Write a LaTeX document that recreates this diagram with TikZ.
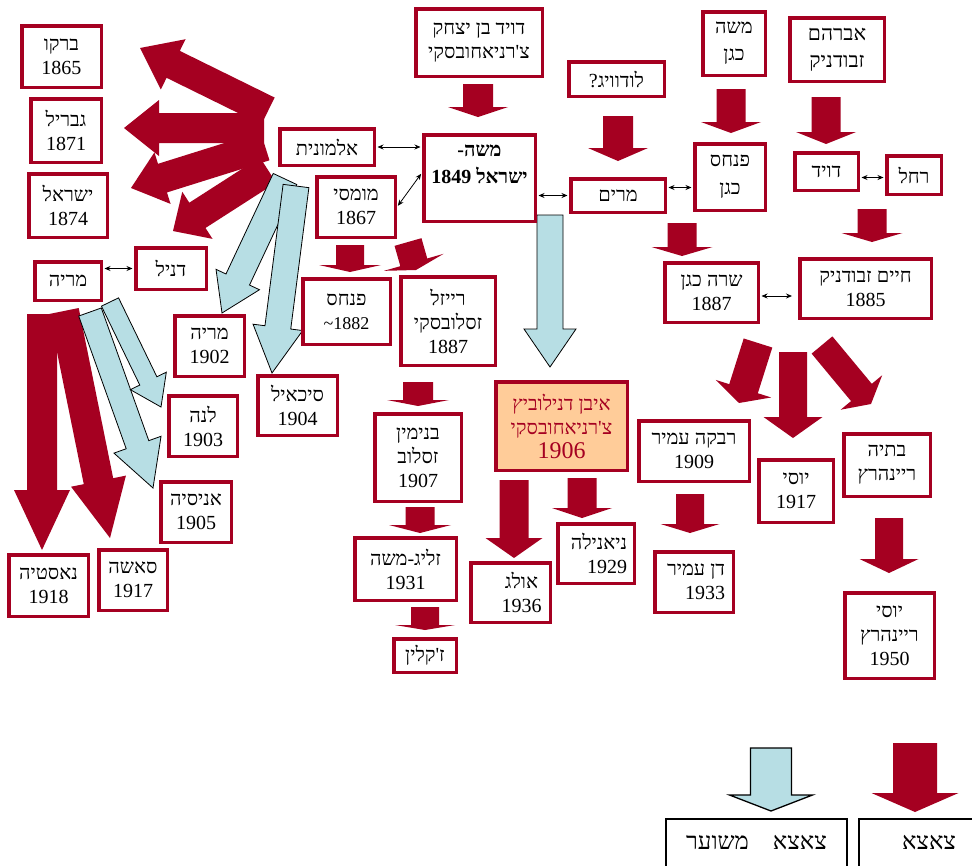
\documentclass[tikz,border=0pt]{standalone}
\usepackage{fontspec}
\usetikzlibrary{calc,arrows.meta}
\TeXXeTstate=1
\newfontfamily\heb[Script=Hebrew]{Liberation Serif}
\newfontfamily\lat{Liberation Serif}
\definecolor{dred}{RGB}{165,0,33}
\definecolor{lblue}{RGB}{183,222,228}
\definecolor{orng}{RGB}{255,204,153}
\newcommand\heR[1]{\beginR #1\endR}
% #1 style, #2 start, #3 tip, #4 half shaft, #5 half head, #6 head length
\newcommand\fatarrow[6][]{%
  \coordinate (faS) at (#2);
  \coordinate (faT) at (#3);
  \coordinate (faH) at ($(faT)!#6!(faS)$);
  \path[#1] ($(faS)!#4!90:(faT)$) -- ($(faH)!#4!-90:(faS)$) -- ($(faH)!#5!-90:(faS)$)
     -- (faT) -- ($(faH)!#5!90:(faS)$) -- ($(faH)!#4!90:(faS)$) -- ($(faS)!#4!-90:(faT)$) -- cycle;
}
\tikzset{
 famnode/.style={draw=dred, line width=3.5pt, fill=white, align=center, inner sep=0pt, text=black, font=\heb\fontsize{20}{24}\selectfont},
 redfill/.style={fill=dred},
 bluefill/.style={fill=lblue, draw=black, line width=0.8pt, line join=miter},
 dbl/.style={{Stealth[length=6pt,width=5pt]}-{Stealth[length=6pt,width=5pt]}, line width=0.8pt, shorten <=1.5pt, shorten >=1.5pt},
 legnode/.style={draw=black, line width=1.3pt, fill=white, align=center, inner sep=0pt, font=\heb\fontsize{24}{28}\selectfont},
}
\begin{document}
\begin{tikzpicture}[x=1pt,y=-1pt]
\useasboundingbox[fill=white] (0,0) rectangle (972,865);

% ---- fan of red arrows (upper left)
\fatarrow[redfill]{268,111}{140,48}{15pt}{28pt}{37pt}
\fatarrow[redfill]{264,128}{124,128}{15pt}{28pt}{35pt}
\fatarrow[redfill]{265,146}{131,188}{15pt}{27pt}{33pt}
\fatarrow[redfill]{268,170}{173,231}{15pt}{28pt}{29pt}
% ---- blue arrows upper left
\fatarrow[bluefill]{285,179}{222,313}{13pt}{24pt}{37pt}
\fatarrow[bluefill]{296,186}{272,373}{13pt}{25pt}{46pt}
% ---- left group
\fatarrow[redfill]{42,314}{42,550}{15pt}{28pt}{60pt}
\fatarrow[redfill]{64,311}{110,538}{15pt}{28pt}{58pt}
\fatarrow[bluefill]{90,312}{153,488}{12pt}{25pt}{46pt}
\fatarrow[bluefill]{110,302}{161,407}{9.5pt}{20pt}{29pt}
% ---- flat-head red arrows
\fatarrow[redfill]{478,84}{478,117}{15pt}{30pt}{10pt}
\fatarrow[redfill]{618,116}{618,161}{15pt}{30pt}{13pt}
\fatarrow[redfill]{731,89}{731,133}{14.5pt}{30pt}{11pt}
\fatarrow[redfill]{826,97}{826,144}{14.5pt}{30pt}{12pt}
\fatarrow[redfill]{682,223}{682,256}{14.5pt}{30.5pt}{9pt}
\fatarrow[redfill]{872,209}{872,242}{14.5pt}{30.5pt}{9pt}
\fatarrow[redfill]{350,245}{350,272}{14pt}{31pt}{7pt}
\fatarrow[redfill]{408,242}{416,270}{14pt}{31pt}{8pt}
\fatarrow[redfill]{418,382}{418,406}{15pt}{31pt}{6pt}
\fatarrow[redfill]{420,507}{420,533}{14.5pt}{31pt}{8pt}
\fatarrow[redfill]{425,607}{425,630}{14pt}{30pt}{5pt}
\fatarrow[redfill]{514,480}{514,558}{14.5pt}{28.5pt}{20pt}
\fatarrow[redfill]{582,478}{582,518}{14.5pt}{30pt}{10pt}
\fatarrow[redfill]{758,343}{739,403}{15pt}{29pt}{15pt}
\fatarrow[redfill]{793,352}{793,438}{14pt}{29.5pt}{21pt}
\fatarrow[redfill]{822,345}{871,404}{13.5pt}{27pt}{15pt}
\fatarrow[redfill]{690,494}{690,533}{14pt}{29.5pt}{9pt}
\fatarrow[redfill]{889,518}{889,573}{14pt}{29.5pt}{14pt}
% ---- main blue arrow
\fatarrow[bluefill]{550,215}{550,367}{13pt}{26pt}{38pt}
% ---- legend arrows
\fatarrow[bluefill, line width=1.3pt]{771,748}{771,811}{20.5pt}{41.5pt}{16pt}
\fatarrow[redfill]{915,743}{915,812}{22pt}{43.5pt}{19pt}

% ---- nodes
\node[famnode, minimum width=79.5pt, minimum height=61.5pt] (barko) at (61.5,56.5) {\heR{ברקו}\\1865};
\node[famnode, minimum width=70.5pt, minimum height=63.5pt] (gavriel) at (66,130.5) {\heR{גבריל}\\1871};
\node[famnode, minimum width=78.5pt, minimum height=63.5pt] (israel) at (68,205.5) {\heR{ישראל}\\1874};
\node[famnode, minimum width=66.5pt, minimum height=38.5pt] (maria) at (68,281) {\heR{מריה}};
\node[famnode, minimum width=70.5pt, minimum height=41.5pt] (daniel) at (171,268.5) {\heR{דניל}};
\node[famnode, minimum width=69.5pt, minimum height=60.5pt] (maria1902) at (209.5,346) {\heR{מריה}\\1902};
\node[famnode, minimum width=68.5pt, minimum height=60.5pt] (lena) at (203,426) {\heR{לנה}\\1903};
\node[famnode, minimum width=70.5pt, minimum height=60.5pt] (anisia) at (196,512) {\heR{אניסיה}\\1905};
\node[famnode, minimum width=79.5pt, minimum height=61.5pt] (nastya) at (48.5,585.5) {\heR{נאסטיה}\\1918};
\node[famnode, minimum width=68.5pt, minimum height=60.5pt] (sasha) at (133,580) {\heR{סאשה}\\1917};
\node[famnode, minimum width=79.5pt, minimum height=59.5pt] (sikail) at (297.5,405.5) {\heR{סיכאיל}\\1904};
\node[famnode, minimum width=126.5pt, minimum height=67.5pt] (davidb) at (479,42.5) {\heR{דויד בן יצחק}\\\heR{צ'רניאחובסקי}};
\node[famnode, minimum width=94.5pt, minimum height=36.5pt] (almonit) at (327,147) {\heR{אלמונית}};
\node[famnode, minimum width=111.5pt, minimum height=86.5pt, font=\heb\bfseries\fontsize{20}{27}\selectfont] (moshe) at (479.5,178) {\heR{משה-}\\\heR{ישראל 1849}\\\mbox{}};
\node[famnode, minimum width=78.5pt, minimum height=60.5pt] (momsi) at (356,207) {\heR{מומסי}\\1867};
\node[famnode, minimum width=95.5pt, minimum height=34.5pt] (ludwig) at (616.5,79) {\heR{לודוויג?}};
\node[famnode, minimum width=62.5pt, minimum height=63.5pt, font=\heb\fontsize{20}{27}\selectfont] (moshek) at (734,43.5) {\heR{משה}\\\heR{כגן}};
\node[famnode, minimum width=94.5pt, minimum height=63.5pt, font=\heb\fontsize{21}{27}\selectfont] (avraham) at (837,49.5) {\heR{אברהם}\\\heR{זבודניק}};
\node[famnode, minimum width=94.5pt, minimum height=33.5pt] (miriam) at (618,195.5) {\heR{מרים}};
\node[famnode, minimum width=70.5pt, minimum height=66.5pt, font=\heb\fontsize{20}{28}\selectfont] (pinhask) at (730,177) {\heR{פנחס}\\\heR{כגן}};
\node[famnode, minimum width=63.5pt, minimum height=37.5pt] (david) at (826.5,171.5) {\heR{דויד}};
\node[famnode, minimum width=54.5pt, minimum height=38.5pt] (rachel) at (914,175) {\heR{רחל}};
\node[famnode, minimum width=93.5pt, minimum height=59.5pt] (sara) at (711.5,292.5) {\heR{שרה כגן}\\1887};
\node[famnode, minimum width=131.5pt, minimum height=59.5pt] (haim) at (865.5,288.5) {\heR{חיים זבודניק}\\1885};
\node[famnode, minimum width=87.5pt, minimum height=65.5pt] (pinhas) at (346.5,311.5) {\heR{פנחס}\\{\lat\fontsize{18}{20}\selectfont\textasciitilde1882}};
\node[famnode, minimum width=94.5pt, minimum height=88.5pt] (raizel) at (448,321) {\heR{רייזל}\\\heR{זסלובסקי}\\1887};
\node[famnode, minimum width=86.5pt, minimum height=87.5pt] (binyamin) at (418,457.5) {\heR{בנימין}\\\heR{זסלוב}\\1907};
\node[famnode, minimum width=101.5pt, minimum height=62.5pt] (zelig) at (405.5,569) {\heR{זליג-משה}\\1931};
\node[famnode, minimum width=62.5pt, minimum height=33.5pt] (jaclin) at (425,655.5) {\heR{ז'קלין}};
\node[famnode, fill=orng, text=dred, minimum width=131.5pt, minimum height=88.5pt] (ivan) at (561.5,426) {\heR{איבן דנילוביץ}\\\heR{צ'רניאחובסקי}\\{\fontsize{24}{27}\selectfont 1906}};
\node[famnode, minimum width=79.5pt, minimum height=59.5pt] (oleg) at (510.5,592.5) {\hspace*{22pt}\heR{אולג}\\\hspace*{22pt}1936};
\node[famnode, minimum width=76.5pt, minimum height=59.5pt] (nianila) at (596,553.5) {\hspace*{6pt}\heR{ניאנילה}\\\hspace*{22pt}1929};
\node[famnode, minimum width=110.5pt, minimum height=60.5pt] (rivka) at (694,451) {\heR{רבקה עמיר}\\1909};
\node[famnode, minimum width=74.5pt, minimum height=62.5pt] (yossi) at (796,491) {\heR{יוסי}\\1917};
\node[famnode, minimum width=86.5pt, minimum height=62.5pt] (batya) at (887,465) {\heR{בתיה}\\\heR{ריינהרץ}};
\node[famnode, minimum width=78.5pt, minimum height=60.5pt] (dan) at (694,582) {\hspace*{4pt}\heR{דן עמיר}\\\hspace*{22pt}1933};
\node[famnode, minimum width=89.5pt, minimum height=85.5pt] (yossir) at (889.5,635.5) {\heR{יוסי}\\\heR{ריינהרץ}\\1950};
% legend
\node[legnode, minimum width=181pt, minimum height=48pt] (leg1) at (756.5,843) {\heR{צאצא\quad משוער}};
\node[legnode, minimum width=140pt, minimum height=48pt] (leg2) at (929,843) {\heR{צאצא}};

% ---- double arrows (partners)
\draw[dbl] (almonit.east) -- (almonit.east -| moshe.west);
\draw[dbl] (momsi.east) -- ($(moshe.north west)!0.44!(moshe.south west)$);
\draw[dbl] (miriam.west -| moshe.east) -- (miriam.west);
\coordinate (mp) at ($(miriam.east)+(0,-8)$);
\draw[dbl] (mp) -- (mp -| pinhask.west);
\coordinate (dr) at ($(david.east)+(0,6)$);
\draw[dbl] (dr) -- (dr -| rachel.west);
\coordinate (sh) at ($(sara.east)+(0,3.5)$);
\draw[dbl, shorten >=6pt] (sh) -- (sh -| haim.west);
\draw[dbl] (daniel.west -| maria.east) -- (daniel.west);
\end{tikzpicture}
\end{document}
